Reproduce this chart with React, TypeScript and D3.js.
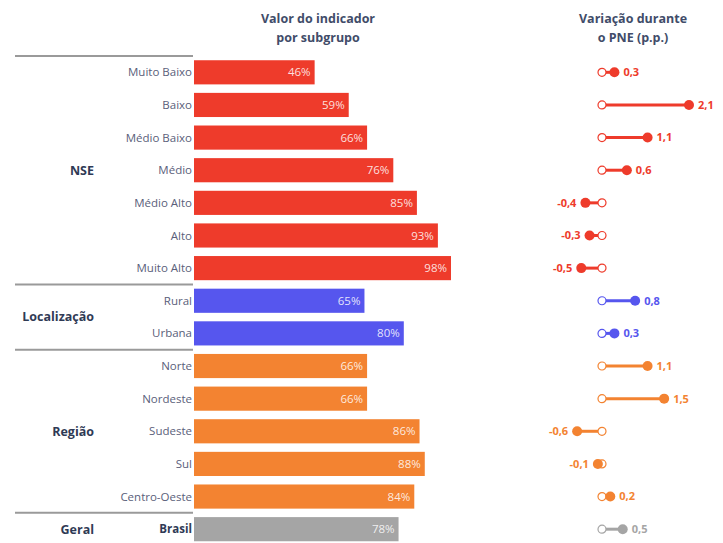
import React, { useEffect, useRef } from 'react';
import * as d3 from 'd3';

const groups = ['NSE', 'Localização', 'Região', 'Geral'];
const categories = [
  'Muito Baixo', 'Baixo', 'Médio Baixo', 'Médio', 'Médio Alto', 'Alto', 'Muito Alto',
  'Rural', 'Urbana',
  'Norte', 'Nordeste', 'Sudeste', 'Sul', 'Centro-Oeste',
  'Brasil',
];
const categoryGroup = [
  'NSE', 'NSE', 'NSE', 'NSE', 'NSE', 'NSE', 'NSE',
  'Localização', 'Localização',
  'Região', 'Região', 'Região', 'Região', 'Região',
  'Geral',
];
const indicatorValues = [46, 59, 66, 76, 85, 93, 98, 65, 80, 66, 66, 86, 88, 84, 78];
const variationValues = [0.3, 2.1, 1.1, 0.6, -0.4, -0.3, -0.5, 0.8, 0.3, 1.1, 1.5, -0.6, -0.1, 0.2, 0.5];
const groupColors = ['#ee3b2b', '#5656ee', '#f38331', '#a5a5a5'];

const FONT = '"Open Sans", "DejaVu Sans", sans-serif';

export default function App() {
  const ref = useRef<SVGSVGElement>(null);

  useEffect(() => {
    if (!ref.current) return;
    const svg = d3.select(ref.current);
    svg.selectAll('*').remove();

    const color = d3.scaleOrdinal<string, string>().domain(groups).range(groupColors);

    const y = d3.scaleBand()
      .domain(categories)
      .range([56, 545.5])
      .paddingInner(0.26)
      .paddingOuter(0.13);

    const x = d3.scaleLinear().domain([0, 98]).range([194, 451]);
    const xv = d3.scaleLinear().domain([0, 2.1]).range([602, 689]);

    // comma decimal, plain hyphen for negatives
    const fmt = (v: number) => d3.format('.1f')(v).replace('.', ',').replace('\u2212', '-');

    // headers
    const header = svg.append('g')
      .attr('font-family', FONT)
      .attr('font-weight', 700)
      .attr('font-size', 12.5)
      .attr('fill', '#414c69')
      .attr('text-anchor', 'middle');
    header.append('text').attr('x', 318).attr('y', 23).text('Valor do indicador');
    header.append('text').attr('x', 318).attr('y', 42).text('por subgrupo');
    header.append('text').attr('x', 633).attr('y', 23).text('Variação durante');
    header.append('text').attr('x', 633).attr('y', 42).text('o PNE (p.p.)');

    // separators: top of each group
    const sepY: number[] = [];
    groups.forEach((g) => {
      const first = categories[categoryGroup.indexOf(g)];
      sepY.push(y(first)! - (y.step() - y.bandwidth()) / 2);
    });
    svg.append('g')
      .selectAll('line')
      .data(sepY)
      .join('line')
      .attr('x1', 15)
      .attr('x2', 193)
      .attr('y1', (d) => d)
      .attr('y2', (d) => d)
      .attr('stroke', '#9a9a9a')
      .attr('stroke-width', 2);

    // group labels
    svg.append('g')
      .selectAll('text')
      .data(groups)
      .join('text')
      .attr('x', 94)
      .attr('y', (g) => {
        const idx = categories.filter((_, i) => categoryGroup[i] === g);
        const top = y(idx[0])!;
        const bottom = y(idx[idx.length - 1])! + y.bandwidth();
        return (top + bottom) / 2;
      })
      .attr('dy', '0.35em')
      .attr('text-anchor', 'end')
      .attr('font-family', FONT)
      .attr('font-weight', 700)
      .attr('font-size', 12.5)
      .attr('fill', '#2f3a55')
      .text((g) => g);

    // category labels
    svg.append('g')
      .selectAll('text')
      .data(categories)
      .join('text')
      .attr('x', 192)
      .attr('y', (c) => y(c)! + y.bandwidth() / 2)
      .attr('dy', '0.35em')
      .attr('text-anchor', 'end')
      .attr('font-family', FONT)
      .attr('font-size', 11.5)
      .attr('font-weight', (c) => (c === 'Brasil' ? 700 : 400))
      .attr('fill', (c) => (c === 'Brasil' ? '#2f3a55' : '#5a607a'))
      .text((c) => c);

    // bars
    const rows = categories.map((c, i) => ({
      cat: c,
      group: categoryGroup[i],
      value: indicatorValues[i],
      variation: variationValues[i],
    }));

    svg.append('g')
      .selectAll('rect')
      .data(rows)
      .join('rect')
      .attr('x', x(0))
      .attr('y', (d) => y(d.cat)!)
      .attr('width', (d) => x(d.value) - x(0))
      .attr('height', y.bandwidth())
      .attr('fill', (d) => color(d.group));

    svg.append('g')
      .selectAll('text')
      .data(rows)
      .join('text')
      .attr('x', (d) => x(d.value) - 4)
      .attr('y', (d) => y(d.cat)! + y.bandwidth() / 2)
      .attr('dy', '0.35em')
      .attr('text-anchor', 'end')
      .attr('font-family', FONT)
      .attr('font-size', 11.5)
      .attr('fill', '#ffffff')
      .attr('fill-opacity', 0.85)
      .text((d) => `${d.value}%`);

    // dumbbells
    const dumb = svg.append('g')
      .selectAll('g')
      .data(rows)
      .join('g')
      .attr('transform', (d) => `translate(0,${y(d.cat)! + y.bandwidth() / 2})`);

    dumb.append('line')
      .attr('x1', xv(0))
      .attr('x2', (d) => xv(d.variation))
      .attr('stroke', (d) => color(d.group))
      .attr('stroke-width', 3);

    dumb.append('circle')
      .attr('cx', xv(0))
      .attr('r', 4)
      .attr('fill', '#fff')
      .attr('stroke', (d) => color(d.group))
      .attr('stroke-width', 1.2);

    dumb.append('circle')
      .attr('cx', (d) => xv(d.variation))
      .attr('r', 5)
      .attr('fill', (d) => color(d.group));

    dumb.append('text')
      .attr('x', (d) => (d.variation >= 0 ? xv(d.variation) + 9 : xv(d.variation) - 9))
      .attr('dy', '0.35em')
      .attr('text-anchor', (d) => (d.variation >= 0 ? 'start' : 'end'))
      .attr('font-family', FONT)
      .attr('font-weight', 700)
      .attr('font-size', 11)
      .attr('fill', (d) => color(d.group))
      .text((d) => fmt(d.variation));
  }, []);

  return (
    <svg
      ref={ref}
      width={723}
      height={543}
      style={{ position: 'absolute', left: 0, top: 0, background: '#fff' }}
    />
  );
}
